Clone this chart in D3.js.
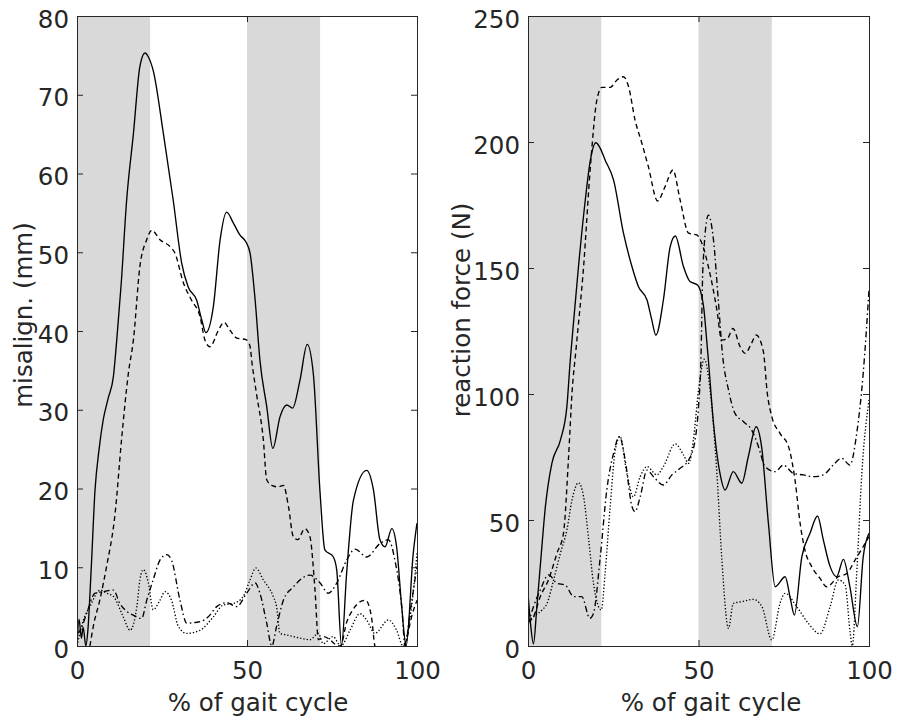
<!DOCTYPE html>
<html lang="en">

<head>
    <script src='https://d3js.org/d3.v7.min.js'></script>
    <style>
        body { margin: 0; background: #fff; }
        text { font-family: "DejaVu Sans", sans-serif; fill: #262626; }
    </style>
</head>

<body>

    <script>

        // stance phases shaded in both panels (% of gait cycle)
        const phases = [[0, 21.5], [50, 71.5]];
        const xTicks = [0, 50, 100];
        const misTicks = [0, 10, 20, 30, 40, 50, 60, 70, 80];
        const forceTicks = [0, 50, 100, 150, 200, 250];

        // left panel: misalignment (mm), [% gait, value]
        const misSolid = [[0,0],[0.6,3.4],[1.3,1],[1.8,2.4],[2.6,0],[3.2,2],[4.2,10],[5.3,19.8],[6.5,25],[7.7,28.7],[9.2,31.5],[10.7,34.2],[11.7,38.9],[13,46],[14.6,56.6],[16.6,65.1],[18.5,73.6],[20,75.3],[21,74.8],[22.4,73.1],[25.4,65.1],[28.3,56.6],[30.8,48.6],[32.7,45.6],[35.2,43.9],[36.7,41.4],[37.9,39.8],[40.1,43.1],[42.1,51.6],[44,55.1],[46,53.7],[47.9,52.2],[49.7,51.3],[50.9,49.9],[52.4,43.9],[53.8,36.3],[55.8,30.4],[57.6,25.1],[59.7,29.1],[61.7,30.6],[63.4,30.2],[65.6,33.8],[67.7,38.3],[69.5,34.6],[71.5,19.4],[72.9,12.2],[75.4,11.3],[76.4,9.6],[77.8,0],[79.3,9.2],[81.3,18.5],[85.2,22.3],[87.2,19.8],[89.1,13.5],[90.6,12.6],[92.6,14.9],[94,12.6],[95.5,5],[96.8,0],[98.9,11.8],[100,15.6]];
        const misDash = [[3.8,0],[4.8,2.5],[6.8,6],[8.7,10.1],[11.2,16.8],[13.1,26.2],[15.1,34.6],[16.6,38.9],[18.5,48.2],[20.5,51.6],[22,52.8],[24.4,51.6],[27.4,50.7],[28.8,49.9],[31.3,46.1],[33.7,43.9],[36.2,41.8],[37.6,38.9],[39.1,38],[41.6,40.1],[43.2,41.1],[45,40.1],[47,39.1],[49.7,38.9],[50.8,38.2],[51.6,35.5],[52.8,32],[54.8,26.2],[55.8,21.1],[57.3,20.4],[59.2,20.2],[60.7,20.4],[62.2,17.7],[63.6,13.9],[64.9,13.5],[67,14.9],[68.5,13.9],[70,7.1],[71,0.8],[72.5,1.2],[74.4,0.8],[76,0.2],[77.5,0],[79.3,3],[81,4.5],[83.2,5.6],[84.9,5.8],[86.6,3.7],[87.6,0],[90,-2.5],[93,-2.5],[96,-0.3],[96.9,0.8],[98.4,3.7],[100,5.8]];
        const misDashDot = [[0,1.5],[1.5,2.5],[2.8,4.1],[5.3,6.7],[7.7,6.9],[10.7,7.1],[12.6,5.4],[14.6,4.4],[16.6,3.9],[19,3.5],[20.5,5.8],[22.4,8.4],[24.4,10.9],[26.4,11.6],[27.8,10.9],[30.3,5.8],[32.3,2.9],[36.2,3.1],[38.6,3.7],[41.1,5],[44,5.5],[47,5],[49.9,6.7],[52.4,8],[53.8,6.7],[55.8,2.9],[57.3,0],[58.7,2.5],[60.7,5.8],[63.6,7.5],[68.5,9],[71.5,8],[73.9,6.7],[76.4,8],[79.3,10.9],[81.8,12.3],[85.2,11.3],[89.1,13],[91.6,13.5],[93.5,10.9],[95.5,5],[96.5,0],[97.9,4.1],[100,10.1]];
        const misDot = [[0,0],[1.9,3.3],[3.8,5],[6.8,7.1],[8.7,6.7],[10.7,6.3],[13.6,3.7],[15.6,2],[17.6,5],[18.5,8.4],[19.5,9.7],[21,8],[22.4,4.6],[24.4,5.8],[25.9,6.9],[27.8,5.8],[29.8,2.5],[32.3,1.6],[36.2,2],[40.1,3.7],[43,5.2],[46,5.4],[48.9,6.3],[50.9,8.4],[52.6,9.9],[54.8,8.4],[57.7,6.3],[58.7,5],[59.7,1.6],[61.7,1.4],[65.6,1],[68.5,0.8],[71,1.6],[72.4,0.3],[75.3,1.2],[77.6,0],[80.3,2],[83.2,4.1],[85.2,3.3],[87.6,1.6],[91.6,3.3],[94,2],[95.9,0],[98.4,5],[100,11.8]];

        // right panel: reaction force (N), [% gait, value]
        const forceSolid = [[0,20.9],[0.8,8],[1.6,0.8],[2.6,15.6],[3.8,35],[5.1,55.3],[7,72.5],[9.5,81.7],[11.4,95],[12.4,113.5],[12.9,121.4],[14.8,150.5],[16.8,177],[18.3,192.9],[19.9,199.7],[21,198],[22.6,192.9],[25.1,184.9],[28,163.8],[30.5,150.5],[32.4,142.6],[34.9,137.3],[36.3,129.4],[37.5,123.4],[39.7,137.3],[41.7,158.5],[43.2,162.7],[45.6,150.5],[47.5,144.6],[49.7,143.3],[51.5,134.6],[52.4,121.4],[52.9,113.5],[54.4,88.4],[56.3,68.5],[57.8,61.9],[60.2,69.2],[62.7,64.6],[64.6,75.1],[66.9,87],[68.5,79.1],[70.5,48.7],[72.5,23.5],[75.4,27.5],[77,18.3],[78.1,12.3],[80.3,35.4],[82.7,44.7],[84.9,51.6],[86.6,42.1],[88.6,31.5],[90.5,27.5],[92.5,34.4],[94.4,23.5],[96.6,7.7],[98.3,35.4],[100,44.7]];
        const forceDash = [[0,9.5],[1.6,11.6],[3.6,19.6],[6,26.2],[8.5,36.8],[10.4,44.7],[11.9,75.1],[12.9,100.3],[14.1,118],[16.3,150.5],[18.3,190.2],[20.2,216.7],[21.7,221.7],[24.1,221.7],[26.1,224.6],[28,225.9],[29.5,221.9],[31.4,208.7],[33.4,199.5],[35.3,190.2],[38,176.6],[40.2,182.3],[42.5,188.9],[44.6,177],[47.1,163.8],[49.5,163.1],[51,159.8],[52.9,150.5],[55.4,133.3],[56.8,121.4],[58.5,122],[60.1,126],[62.2,118.8],[63.7,116.1],[65.5,120],[66.9,123.4],[69,117],[70.2,100],[71.5,91],[73.9,84.4],[76.4,79.1],[78.3,65.9],[79.8,48.7],[81.2,38.1],[83.2,31.5],[85.6,26.9],[87.6,23.5],[91,27.5],[93.5,28.8],[95.9,34.1],[98.3,39.4],[100,43.4]];
        const forceDashDot = [[0,8.4],[1.6,15.6],[3.6,22.2],[6,28.2],[8.5,24.9],[10.9,24.2],[13.4,19.6],[15.8,19.6],[18.1,11],[19.2,13],[21.2,35.4],[23.1,61.9],[25.1,76.5],[26.8,83.1],[28.5,73.8],[30.5,55.3],[31.4,53.3],[32.9,59.2],[34.9,69.8],[36.8,67.2],[39.7,63.9],[42.2,67.9],[44.6,70.5],[47.1,73.8],[49,81.7],[50,95],[50.7,113],[51.3,150.5],[52.9,171],[54.4,161.1],[55.8,137.3],[57.1,115],[58.8,101.6],[60.7,92.3],[63.2,89],[65.6,85.7],[67.6,79.1],[69.5,71.2],[72.5,69.2],[74.9,71.8],[77.8,68.5],[80.8,67.9],[83.7,67.2],[86.6,67.9],[89.5,71.8],[92,74.5],[94.4,71.8],[96.4,84.4],[98.3,108.2],[100,141.3]];
        const forceDot = [[0,10],[1.6,11.6],[4.1,14.3],[5.6,16.9],[7.5,26.2],[9.5,36.8],[11.4,46],[12.9,57.9],[14.8,64.8],[16.3,59.2],[17.8,42.1],[19.2,24.9],[21.5,14.3],[22.6,28.8],[24.1,55.3],[25.6,77.8],[27,83.1],[29,68.5],[30.9,59.2],[32.9,67.2],[34.9,71.2],[37.8,67.9],[39.7,71.2],[43.2,80.2],[45.6,75.8],[47.1,72.5],[48.5,81.7],[50,101.6],[51.7,113.8],[53.4,101.6],[55.4,68.5],[56.8,35.4],[58.8,7],[60.2,16.9],[62.7,17.6],[66.1,18.5],[68.6,15.6],[71.5,2.4],[73.9,16.9],[75.4,20.9],[78.8,15.6],[82.2,9],[85.6,4.8],[88.6,15.6],[91,26.2],[93,24.2],[94.4,6.3],[95.1,0],[96.4,28.8],[97.9,68.5],[100,97.6]];

        const styles = {
            solid: null,
            dash: "5,3.5",
            dashdot: "6,3,1.5,3",
            dot: "1.3,2"
        };

        const width = 897;
        const height = 722;
        const fontSize = "24.5px";

        var svg = d3.select("body")
            .append("svg")
            .attr("width", width)
            .attr("height", height);

        function panel(opts) {
            var x = d3.scaleLinear().domain([0, 100]).range([opts.left, opts.right]);
            var y = d3.scaleLinear().domain([0, opts.ymax]).range([646, 16]);

            var g = svg.append("g");

            g.append("clipPath").attr("id", opts.id)
                .append("rect")
                .attr("x", opts.left).attr("y", 16)
                .attr("width", opts.right - opts.left).attr("height", 630);

            // shaded phases
            g.selectAll("rect.phase")
                .data(phases)
                .enter()
                .append("rect")
                .attr("class", "phase")
                .attr("x", function (d) { return x(d[0]); })
                .attr("y", y(opts.ymax))
                .attr("width", function (d) { return x(d[1]) - x(d[0]); })
                .attr("height", y(0) - y(opts.ymax))
                .attr("fill", "#d9d9d9");

            var line = d3.line()
                .x(function (d) { return x(d[0]); })
                .y(function (d) { return y(d[1]); })
                .curve(d3.curveMonotoneX);

            g.append("g").attr("clip-path", "url(#" + opts.id + ")")
                .selectAll("path")
                .data(opts.series)
                .enter()
                .append("path")
                .attr("d", function (d) { return line(d.values); })
                .attr("fill", "none")
                .attr("stroke", "#000")
                .attr("stroke-width", 1.35)
                .attr("stroke-dasharray", function (d) { return styles[d.style]; });

            // axes, ticks pointing inwards on all four sides
            var fmt = d3.format("d");
            var bottom = g.append("g").attr("transform", "translate(0,646)")
                .call(d3.axisBottom(x).tickValues(xTicks).tickSize(-6).tickPadding(16).tickFormat(fmt));
            g.append("g").attr("transform", "translate(0,16)")
                .call(d3.axisTop(x).tickValues(xTicks).tickSize(-6).tickFormat(""));
            var left = g.append("g").attr("transform", "translate(" + opts.left + ",0)")
                .call(d3.axisLeft(y).tickValues(opts.yticks).tickSize(-6).tickPadding(8).tickFormat(fmt));
            g.append("g").attr("transform", "translate(" + opts.right + ",0)")
                .call(d3.axisRight(y).tickValues(opts.yticks).tickSize(-6).tickFormat(""));

            g.selectAll(".domain").attr("stroke", "#262626");
            g.selectAll(".tick line").attr("stroke", "#262626");
            g.selectAll(".tick text")
                .style("font-size", fontSize)
                .attr("fill", "#262626");
            left.selectAll(".tick text").attr("dy", "11px");

            g.append("text")
                .attr("x", opts.xlabelX)
                .attr("y", 711)
                .attr("text-anchor", "middle")
                .style("font-size", fontSize)
                .text("% of gait cycle");

            g.append("text")
                .attr("transform", "translate(" + opts.ylabelX + "," + opts.ylabelY + ") rotate(-90)")
                .attr("text-anchor", "middle")
                .style("font-size", fontSize)
                .text(opts.ylabel);
        }

        panel({
            id: "clipL", left: 77, right: 417, ymax: 80, yticks: misTicks,
            ylabel: "misalign. (mm)", ylabelX: 32, ylabelY: 315, xlabelX: 258,
            series: [
                { style: "dot", values: misDot },
                { style: "dashdot", values: misDashDot },
                { style: "dash", values: misDash },
                { style: "solid", values: misSolid }
            ]
        });

        panel({
            id: "clipR", left: 528, right: 869, ymax: 250, yticks: forceTicks,
            ylabel: "reaction force (N)", ylabelX: 470, ylabelY: 310, xlabelX: 711,
            series: [
                { style: "dot", values: forceDot },
                { style: "dashdot", values: forceDashDot },
                { style: "dash", values: forceDash },
                { style: "solid", values: forceSolid }
            ]
        });

    </script>

</body>

</html>
